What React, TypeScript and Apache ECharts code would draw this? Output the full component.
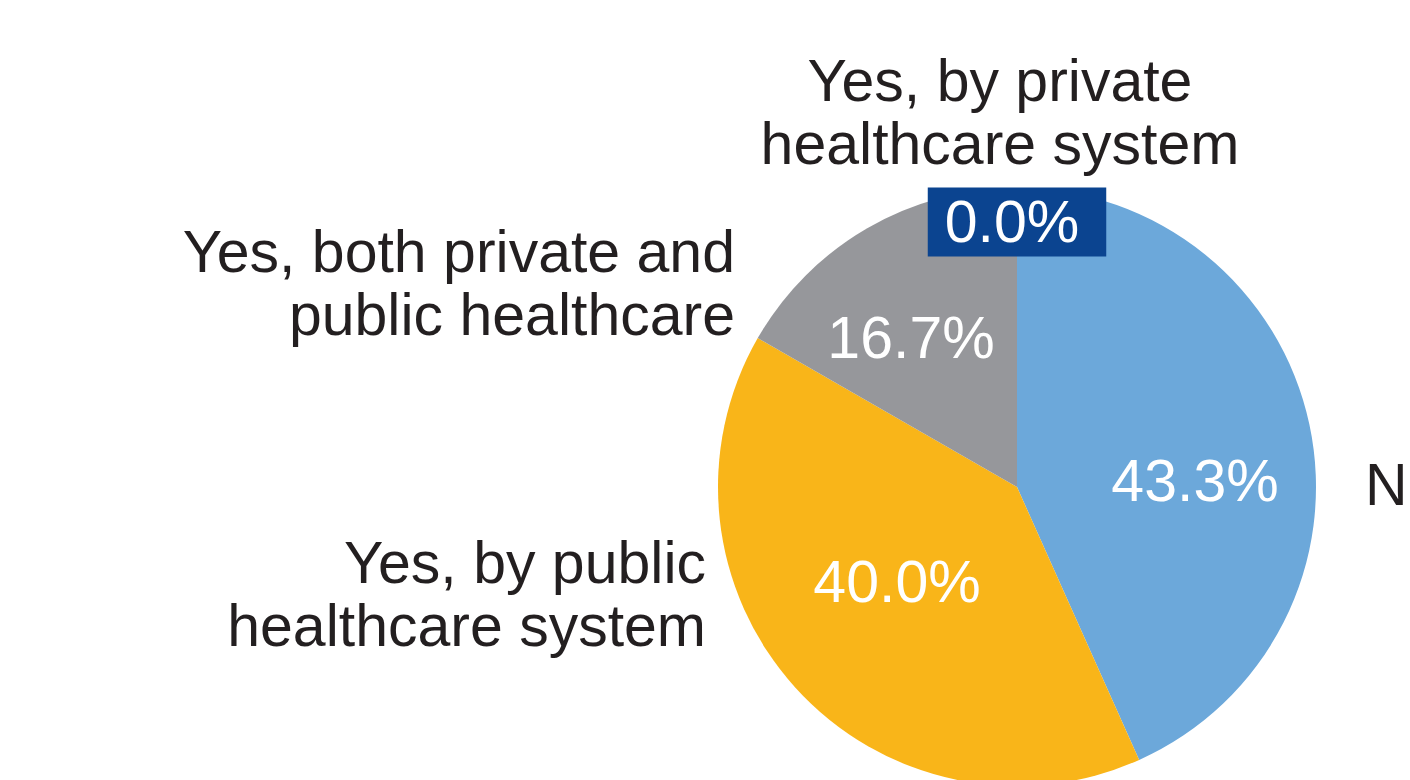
import React, { useEffect, useRef } from "react";
import * as echarts from "echarts";

const categories = [
  "No",
  "Yes, by public\nhealthcare system",
  "Yes, both private and\npublic healthcare",
  "Yes, by private\nhealthcare system",
];
const values = [43.3, 40.0, 16.7, 0.0];
const colors = ["#6CA8DA", "#F9B519", "#96979B", "#0B4490"];

// label layout (pixel anchors)
const valueLabelPos = [
  { x: 1195, y: 481, align: "center" },
  { x: 897, y: 582, align: "center" },
  { x: 911, y: 338, align: "center" },
  { x: 1017, y: 222, align: "center" },
];
const nameLabelPos = [
  { x: 1365, y: 485, align: "left" },
  { x: 706, y: 594, align: "right" },
  { x: 735, y: 283, align: "right" },
  { x: 1000, y: 112, align: "center" },
];

export default function App() {
  const ref = useRef<HTMLDivElement>(null);
  useEffect(() => {
    document.body.style.margin = "0";
    const chart = echarts.init(ref.current!, null, { renderer: "svg" });
    const font = "'Liberation Sans', Arial, sans-serif";
    chart.setOption({
      animation: false,
      backgroundColor: "#ffffff",
      series: [
        {
          type: "pie",
          center: [1017, 487],
          radius: [0, 299],
          startAngle: 90,
          clockwise: true,
          avoidLabelOverlap: false,
          silent: true,
          minShowLabelAngle: 0,
          stillShowZeroSum: true,
          data: categories.map((n, i) => ({
            name: n,
            value: values[i],
            itemStyle: { color: colors[i] },
            label:
              i === 3
                ? {
                    backgroundColor: "#0B4490",
                    padding: [6, 27, 5, 17],
                  }
                : {},
          })),
          label: {
            show: true,
            position: "inside",
            color: "#ffffff",
            fontFamily: font,
            fontSize: 59,
            lineHeight: 58,
            formatter: (p: any) => p.value.toFixed(1) + "%",
          },
          labelLine: { show: false },
          labelLayout: (p: any) => {
            const l = valueLabelPos[p.dataIndex];
            return { x: l.x, y: l.y, align: l.align, verticalAlign: "middle" };
          },
        },
        {
          type: "pie",
          center: [1017, 487],
          radius: [0, 299],
          startAngle: 90,
          clockwise: true,
          avoidLabelOverlap: false,
          silent: true,
          minShowLabelAngle: 0,
          itemStyle: { color: "rgba(0,0,0,0)" },
          data: categories.map((n, i) => ({ name: n, value: values[i] })),
          label: {
            show: true,
            position: "outside",
            color: "#231F20",
            fontFamily: font,
            fontSize: 59,
            lineHeight: 63,
            formatter: "{b}",
          },
          labelLine: { show: false },
          labelLayout: (p: any) => {
            const l = nameLabelPos[p.dataIndex];
            return { x: l.x, y: l.y, align: l.align, verticalAlign: "middle" };
          },
        },
      ],
    });
    return () => chart.dispose();
  }, []);
  return <div ref={ref} style={{ width: 1410, height: 780 }} />;
}
